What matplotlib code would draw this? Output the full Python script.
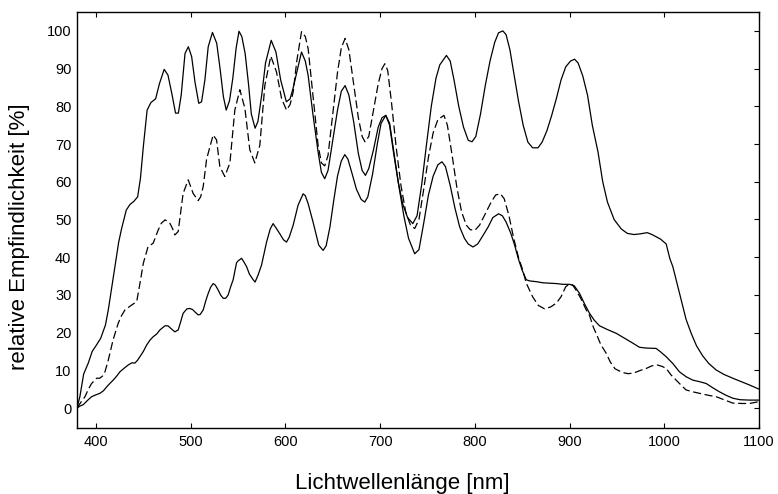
import matplotlib
matplotlib.use("Agg")
import matplotlib.pyplot as plt

plt.rcParams["font.family"] = ["Liberation Sans", "DejaVu Sans"]
plt.rcParams["lines.scale_dashes"] = False

# Kurve 1 (oben, durchgezogen)
wl_a = [380, 383, 387, 392, 396, 400, 405, 410, 413, 417, 420, 424, 427, 432, 436, 440, 444, 447, 450, 454,
        458, 463, 467, 472, 476, 480, 484, 487, 490, 494, 497.5, 501, 504.5, 508.5, 511.5, 515, 518.5, 523, 527.5, 531,
        534.5, 537.5, 541, 544.5, 548, 551, 554, 557.5, 561, 564, 568, 571, 575, 579, 585, 590, 595, 601, 605, 608,
        612, 617, 621, 624, 629, 634.5, 638, 641.5, 645, 650, 655, 659, 663, 667, 672, 677, 681, 684.5, 688, 693,
        698, 702, 706, 710, 714, 719, 724, 729, 734.5, 739, 744, 749, 754, 759, 763, 770, 774, 778, 783, 788,
        793, 797, 801, 806, 811, 816, 821, 825, 829.6, 833, 837, 841, 846, 851, 856, 861, 866.6, 871, 876, 881,
        886, 891, 896, 901, 905.3, 909, 914, 919, 924, 930, 935, 940, 947, 954.5, 961, 968, 975, 982, 987, 991.4,
        996, 1002, 1006, 1009, 1013, 1018, 1023, 1028.4, 1034, 1040.6, 1047, 1054.7, 1063, 1072.3, 1081, 1090, 1100]
val_a = [0, 3, 9, 12, 15, 16.5, 18.5, 22, 26, 32.5, 37.5, 44, 47.5, 52.5, 54, 54.8, 56, 61, 69.3, 79,
         81, 82, 86, 89.8, 88.3, 83.5, 78.2, 78.2, 83, 94, 95.8, 93.2, 86.5, 80.8, 81.2, 87, 95.8, 99.6, 96.7, 90,
         82.6, 79, 81.5, 87.5, 95.5, 99.9, 98.5, 94, 86, 78, 74.2, 76, 83, 91.5, 97.5, 94.4, 87, 81.2, 82, 84.7,
         89, 94.4, 92, 88.2, 78, 67.9, 62.5, 60.8, 63, 71, 79, 84, 85.5, 83, 76, 67.5, 63, 61.7, 63.5, 68.5,
         74.5, 77, 77.6, 75, 68, 60, 54, 50.5, 48.9, 51, 59.5, 70, 80, 87.5, 91, 93.5, 92, 87, 80, 74.5,
         71, 70.6, 72, 78, 85.5, 92, 97, 99.5, 100, 99, 95, 89, 81.5, 75, 70.5, 69, 69, 70.5, 73.5, 77.5,
         82, 87, 90.5, 92, 92.5, 91.5, 88, 82.9, 75, 67.9, 60, 54.6, 50, 47.5, 46.3, 46, 46.2, 46.5, 46, 45.4,
         44.8, 43.5, 39.5, 37.5, 33.5, 28.6, 23.5, 19.8, 16.5, 13.8, 11.8, 10.1, 8.9, 7.9, 7, 6.1, 5]

# Kurve 2 (gestrichelt)
wl_b = [380, 384, 388.4, 392, 395.4, 400.7, 404, 407, 409.5, 413, 418, 423.5, 427, 430.6, 437.6, 443, 446.4, 450, 455, 460.4,
        465.7, 469, 473, 478, 481, 483.3, 486.8, 489, 492, 497.4, 502.6, 507.9, 510.5, 513.2, 516.8, 518.5, 523.7, 527.3, 530.8, 536,
        541.4, 544, 546.6, 551.9, 557.2, 562.4, 567.7, 573, 578.3, 584.6, 590.6, 596, 601.2, 605, 608.2, 612, 617, 621, 624, 629,
        634.5, 638, 641.5, 645, 650, 655, 659, 663, 667, 672, 677, 681, 684, 688, 693, 698, 702, 705, 708, 712,
        717, 722, 727, 732, 736.5, 741, 746, 751, 756, 761, 767.4, 771, 776, 781, 786, 791, 795, 800, 805, 811,
        817, 822, 827, 831, 836, 841, 846, 850, 854.3, 861, 867, 873.6, 880, 886, 891, 896, 900, 903, 907, 912,
        917.6, 921, 925, 928, 933, 938.7, 943, 948, 956, 962, 968, 975, 981, 987, 993, 998, 1002, 1007, 1012.5, 1018,
        1023, 1030, 1037, 1046, 1054.7, 1063, 1072.3, 1082, 1090, 1100]
val_b = [0, 1.5, 3, 5, 6.5, 7.9, 7.9, 8.5, 9.6, 12.7, 18, 22.5, 24.5, 26, 27.3, 28.2, 33, 38.4, 42.8, 43.7,
         47.2, 49, 49.9, 49, 47.5, 45.9, 46.8, 51, 56.9, 60.5, 56.9, 55, 56, 58.7, 66, 67.6, 72.4, 71.1, 64, 61.4,
         65, 72, 79, 84.4, 79.5, 68.5, 65, 69.7, 85.6, 93.3, 89.1, 82, 79, 80.5, 83.8, 92, 99.8, 98.5, 95.3, 83,
         69.7, 65, 64.2, 67, 78, 89, 95.5, 98, 95, 86, 77, 72, 70.6, 72, 79, 86, 90, 91.3, 89.5, 81,
         69, 59, 52, 48.5, 47.6, 50, 58, 66.5, 73, 76.5, 77.6, 75, 67, 58.5, 52, 48.5, 47.3, 47.1, 48.5, 51.5,
         54.5, 56.5, 56.8, 55.5, 51, 45, 40, 37, 33.1, 29.5, 27.2, 26.3, 26.8, 27.8, 29.5, 32.2, 32.8, 32.7, 31.2, 29,
         26, 24.6, 21.5, 19.8, 16.8, 14.5, 12.2, 10.4, 9.4, 9.1, 9.3, 10, 10.5, 11.2, 11.4, 11, 10.5, 8.8, 7.4, 6,
         4.8, 4.3, 3.9, 3.4, 3, 2.2, 1.3, 1.2, 1.2, 1.7]

# Kurve 3 (unten, durchgezogen)
wl_c = [380, 383, 386.6, 391, 395.4, 400, 404.2, 408, 411.3, 415, 418.2, 422, 425.3, 430, 434, 438, 441, 444, 446.4, 450,
        453.5, 457, 460.4, 464, 467.5, 472.8, 476, 480, 483.3, 486.8, 489, 492, 496, 499.2, 502, 504.4, 507.9, 510, 513.2, 516,
        518.5, 521, 523.7, 526, 529, 531.5, 534.3, 537, 539.6, 542, 544.8, 548.4, 550, 553.7, 556, 559, 562, 566, 568, 571.2,
        574.8, 580.1, 584, 587, 590, 594.1, 598, 601.2, 604, 608.2, 613.4, 618.7, 621, 624, 629.2, 635.2, 639.8, 643, 647, 651,
        655, 659, 662.7, 666, 670, 675, 680, 683.8, 687, 692, 697, 701, 706, 710, 715, 720, 725, 730, 736.5, 741,
        746, 751, 756, 761, 765.3, 769, 774, 779, 784, 789, 793, 798, 803, 808, 814, 819, 825, 829, 833, 838,
        842, 846, 850, 854.3, 858, 865, 872, 879, 886, 893, 900, 905, 910.5, 916, 921.1, 926, 931.6, 940, 949.3, 958,
        966.8, 973.8, 981, 991.4, 996, 1002, 1009, 1016, 1023, 1030, 1037, 1044.2, 1051, 1058.2, 1065, 1072.3, 1080, 1090, 1100]
val_c = [0, 0.5, 0.9, 2, 3, 3.5, 3.9, 4.6, 5.6, 6.6, 7.4, 8.5, 9.6, 10.6, 11.4, 12, 11.9, 12.7, 13.6, 15,
         16.7, 18, 18.9, 19.6, 20.7, 21.8, 21.8, 20.9, 20.2, 20.7, 22.5, 25.1, 26.3, 26.4, 26.1, 25.5, 24.7, 24.8, 26, 28.5,
         30.4, 32, 33, 32.6, 31.3, 30, 29.1, 29.1, 30, 32, 34, 38.5, 39, 39.7, 38.8, 37.5, 35.5, 34, 33.4, 35.3,
         37.9, 44, 47.5, 48.9, 47.8, 46.2, 44.6, 44, 45.3, 48.5, 53.8, 56.8, 56.3, 54.2, 49.3, 43.2, 41.8, 43, 48, 55,
         61.5, 65.5, 67.2, 66, 62.5, 58, 55.3, 54.6, 56, 62, 70, 75.5, 77.6, 75.5, 67, 58.5, 51, 45, 40.9, 42,
         49, 56.5, 61.5, 64.5, 65.3, 64, 59, 53, 48, 45, 43.5, 42.7, 43.5, 45.5, 48, 50.5, 51.5, 51, 49.3, 46.3,
         43.2, 39.5, 36.5, 34, 33.7, 33.5, 33.2, 33.1, 33, 32.8, 32.8, 32.4, 30.4, 27.5, 25.1, 23.3, 21.8, 20.8, 19.8, 18.5,
         17.2, 16.1, 15.9, 15.8, 14.9, 13.6, 11.8, 9.6, 8.3, 7.4, 7, 6.5, 5.4, 4.3, 3.4, 2.6, 2.2, 2.1, 2.1]

x_ticks = [400, 500, 600, 700, 800, 900, 1000, 1100]
y_ticks = [0, 10, 20, 30, 40, 50, 60, 70, 80, 90, 100]

fig = plt.figure(figsize=(7.78, 4.94), dpi=100)
ax = fig.add_axes([0.099, 0.1336, 0.8766, 0.842])

ax.plot(wl_a, val_a, color="black", linewidth=0.9)
ax.plot(wl_b, val_b, color="black", linewidth=0.9, dashes=(5.8, 2.6))
ax.plot(wl_c, val_c, color="black", linewidth=0.9)

ax.set_xlim(380, 1100)
ax.set_ylim(-5.3, 105)
ax.set_xticks(x_ticks)
ax.set_yticks(y_ticks)

ax.tick_params(axis="x", direction="in", top=True, bottom=True, length=3.6, width=0.8,
               labelsize=10.5, pad=5)
ax.tick_params(axis="y", direction="in", left=False, right=True, labelleft=True,
               length=3.6, width=0.8, labelsize=10.5, pad=4)
for s in ax.spines.values():
    s.set_linewidth(1.0)

# Achsentitel frei platziert (wie im Original etwas versetzt)
fig.text(402 / 778, 1 - 483 / 494, "Lichtwellenlänge [nm]", fontsize=16,
         ha="center", va="center")
fig.text(20 / 778, 1 - 237 / 494, "relative Empfindlichkeit [%]", fontsize=16,
         rotation=90, ha="center", va="center")

fig.savefig("out.png", dpi=100)
